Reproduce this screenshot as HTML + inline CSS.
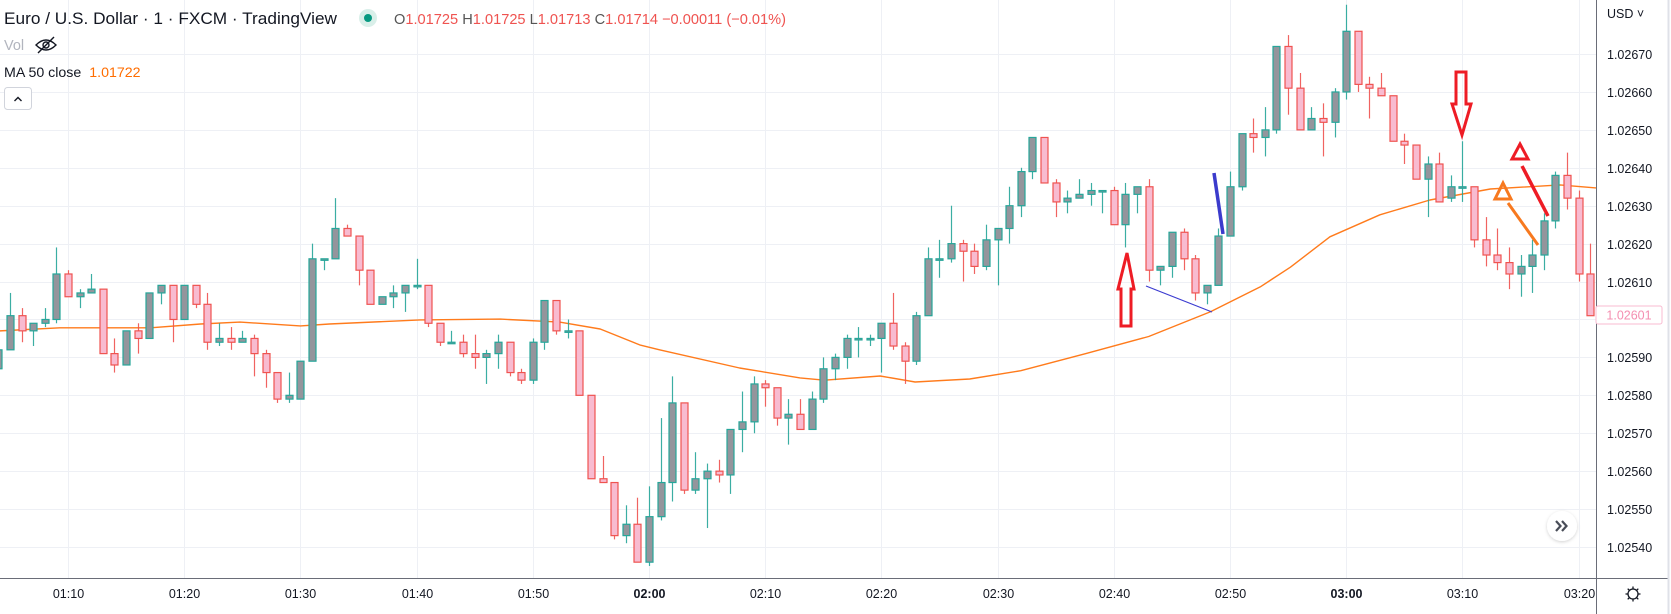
<!DOCTYPE html>
<html><head><meta charset="utf-8">
<style>
html,body{margin:0;padding:0;background:#fff;}
body{width:1671px;height:614px;overflow:hidden;position:relative;font-family:"Liberation Sans",Arial,sans-serif;}
svg{position:absolute;left:0;top:0;}
</style></head>
<body>
<svg id="chart" width="1671" height="614" viewBox="0 0 1671 614" xmlns="http://www.w3.org/2000/svg">
  <defs><clipPath id="plotClip"><rect x="0" y="0" width="1596" height="578"/></clipPath>
  <filter id="sh" x="-50%" y="-50%" width="200%" height="200%"><feDropShadow dx="0" dy="1" stdDeviation="1.5" flood-color="#000" flood-opacity="0.18"/></filter></defs>
  <g id="grid"></g>
  <g id="plot" clip-path="url(#plotClip)">
    <g id="maLayer"></g>
    <g id="candles"></g>
    <g id="annotations">
      <polygon points="1127,253 1134,289 1131,289 1131,326 1121,326 1121,289 1118,289" fill="none" stroke="#ee1c25" stroke-width="3" stroke-linejoin="miter"/>
      <line x1="1146" y1="286" x2="1212" y2="312" stroke="#3b3bd0" stroke-width="1.2"/>
      <line x1="1214" y1="173" x2="1223" y2="234" stroke="#3b3bcc" stroke-width="3.5"/>
      <polygon points="1456,72 1466,72 1466,104 1471,104 1462,135 1452,104 1456,104" fill="none" stroke="#ee1c25" stroke-width="3"/>
      <polygon points="1520,144 1528,159 1512,159" fill="none" stroke="#ee1c25" stroke-width="3"/>
      <line x1="1522" y1="166" x2="1548" y2="216" stroke="#ee1c25" stroke-width="3.5"/>
      <polygon points="1503,183 1511,199 1495,199" fill="none" stroke="#f7791f" stroke-width="3"/>
      <line x1="1508" y1="203" x2="1538" y2="245" stroke="#f7791f" stroke-width="3"/>
    </g>
  </g>
  <g id="yaxis"></g>
  <g id="xaxis"></g>
  <line x1="1596.5" y1="0" x2="1596.5" y2="614" stroke="#6a6d78" stroke-width="1"/>
  <line x1="0" y1="578.5" x2="1668" y2="578.5" stroke="#6a6d78" stroke-width="1"/>
  <line x1="1668.5" y1="0" x2="1668.5" y2="614" stroke="#dfe1e8" stroke-width="2"/>
  <text x="1607" y="18" font-size="12.5" fill="#131722" font-family="Liberation Sans, sans-serif">USD ˅</text>
  <g>
    <rect x="1596" y="306" width="66" height="18" rx="2" fill="#fff" stroke="#f8bbd0" stroke-width="1"/>
    <text id="lastPriceText" x="1629" y="319.5" text-anchor="middle" font-size="12.5" fill="#f48fb1" font-family="Liberation Sans, sans-serif">1.02601</text>
  </g>
  <g filter="url(#sh)">
    <circle cx="1562" cy="526" r="15" fill="#fff"/>
    <path d="M1556 521 L1560.5 526 L1556 531 M1562 521 L1566.5 526 L1562 531" fill="none" stroke="#4a4e59" stroke-width="2.2"/>
  </g>
  <g stroke="#131722" stroke-width="1.3" fill="none">
    <circle cx="1633" cy="594" r="5"/>
    <path d="M1633 586.5V589 M1633 599V601.5 M1625.5 594H1628 M1638 594H1640.5 M1627.7 588.7l1.8 1.8 M1636.5 597.5l1.8 1.8 M1638.3 588.7l-1.8 1.8 M1629.5 597.5l-1.8 1.8"/>
  </g>
  <g font-family="Liberation Sans, sans-serif">
    <text x="4" y="24" font-size="17" fill="#131722" textLength="333" lengthAdjust="spacingAndGlyphs">Euro / U.S. Dollar · 1 · FXCM · TradingView</text>
    <circle cx="368" cy="18" r="9" fill="#d9efe9"/>
    <circle cx="368" cy="18" r="4" fill="#089981"/>
    <text x="394" y="24" font-size="14.6" fill="#ef5350" textLength="392" lengthAdjust="spacingAndGlyphs"><tspan fill="#555">O</tspan>1.01725 <tspan fill="#555">H</tspan>1.01725 <tspan fill="#555">L</tspan>1.01713 <tspan fill="#555">C</tspan>1.01714 −0.00011 (−0.01%)</text>
    <text x="4" y="50" font-size="14.5" fill="#b2b5be">Vol</text>
    <g stroke="#131722" stroke-width="1.4" fill="none">
      <path d="M36 45 Q46 35 56 45 Q46 55 36 45Z"/><circle cx="46" cy="45" r="3"/><line x1="38" y1="53" x2="54" y2="37"/>
    </g>
    <text x="4" y="77" font-size="14.2" fill="#131722">MA 50 close <tspan fill="#ff6d00" dx="4">1.01722</tspan></text>
    <rect x="4.5" y="87.5" width="27" height="22" rx="3" fill="#fff" stroke="#d1d4dc"/>
    <path d="M14.5 101 L18 97.5 L21.5 101" fill="none" stroke="#131722" stroke-width="1.4"/>
  </g>
</svg>
<script>
// ---- data ----
const PRICE_BASE = 1.02540; // candle values below are in points (1e-5) above this base
const startTime = "01:04";
const opensPts  = [47,52,61,57,59,60,72,66,67,68,51,48,57,55,67,69,60,69,64,54,55,54,55,51,46,39,39,49,76,76,84,82,73,64,66,67,69,69,59,54,54,51,50,51,54,46,44,54,65,57,57,40,18,17,3,6,-4,8,17,38,15,18,20,19,31,33,43,42,34,35,31,39,47,50,55,55,55,59,53,49,61,76,76,80,78,74,81,84,90,99,108,96,91,92,93,94,94,85,93,95,73,74,83,76,67,69,82,95,109,108,110,132,121,110,113,112,120,136,122,121,119,107,106,97,101,92,95,95,81,77,75,72,74,77,86,98,92,72];
const highsPts  = [52,67,63,59,63,79,73,68,72,68,55,57,59,67,69,69,69,69,67,59,58,57,56,52,46,46,49,80,76,92,85,82,73,66,69,69,76,69,59,57,56,56,52,56,54,47,55,65,65,60,57,40,24,17,11,13,16,34,45,38,25,22,23,31,41,45,44,42,39,39,41,50,51,56,58,56,59,67,54,62,79,81,90,81,80,85,84,95,100,108,108,97,94,97,96,94,95,96,95,97,74,83,84,77,69,84,99,109,113,116,132,135,125,116,117,121,143,136,124,125,119,109,106,103,104,98,107,95,87,84,79,77,81,88,99,104,94,80];
const lowsPts   = [46,52,54,53,58,59,66,63,67,51,46,48,51,55,64,54,60,63,52,53,52,54,45,42,38,38,39,49,73,76,82,69,64,64,63,62,68,58,53,54,50,47,43,47,45,43,43,52,56,55,40,18,17,2,1,-4,-5,7,12,14,14,5,17,14,25,30,37,32,27,31,31,38,44,47,50,53,46,52,43,48,61,71,75,70,72,73,69,80,87,97,96,87,88,92,90,88,85,79,88,70,69,71,73,65,64,69,82,94,104,103,109,114,110,110,103,108,118,120,113,119,107,101,97,87,91,91,91,79,74,73,68,66,67,73,84,89,70,61];
const closesPts = [52,61,57,59,60,72,66,67,68,51,48,57,55,67,69,60,69,64,54,55,54,55,51,46,39,40,49,76,76,84,82,73,64,66,67,69,69,59,54,54,51,50,51,54,46,44,54,65,57,57,40,18,17,3,6,-4,8,17,38,15,18,20,19,31,33,43,42,34,35,31,39,47,50,55,55,55,59,53,49,61,76,76,80,78,74,81,84,90,99,108,96,91,92,93,94,94,85,93,95,73,74,83,76,67,69,82,95,109,108,110,132,121,110,113,112,120,136,122,121,119,107,106,97,101,91,95,95,81,77,75,72,74,77,86,98,92,72,61];
// MA 50 line: time (minutes after 00:00) and value (points above base)
const maMinutes = [64.1,69.3,77.1,81.4,84.8,90,92.5,100.3,107.2,112.3,115.8,119.2,120.9,127.8,133,135.1,139.9,142.9,147.6,152,157.6,163,168.3,172.6,175.2,178.6,182.9,187.2,192.4,198.4,201.5];
const maPts     = [57.0,57.8,57.8,58.8,59.3,58.3,58.8,59.9,60.1,59.3,57.5,53.3,52.0,47.2,44.6,44.0,45.1,43.5,44.3,46.5,51,55.5,62.0,68.6,73.8,81.8,87.6,91.5,94.4,95.5,94.7];
const priceTicks = ["1.02670","1.02660","1.02650","1.02640","1.02630","1.02620","1.02610","1.02600","1.02590","1.02580","1.02570","1.02560","1.02550","1.02540"];
const timeTicks = ["01:10","01:20","01:30","01:40","01:50","02:00","02:10","02:20","02:30","02:40","02:50","03:00","03:10","03:20"];
const boldTicks = ["02:00","03:00"];

// ---- scales ----
const NS = "http://www.w3.org/2000/svg";
function toMin(t){const p=t.split(":");return (+p[0])*60+(+p[1]);}
function xScale(min){return 68 + (min-70)*11.62;}
function yScale(price){return 547 - (price-1.02540)*379200;}
function yPts(pts){return yScale(PRICE_BASE + pts/100000);}
function mk(tag, attrs){const e=document.createElementNS(NS,tag);for(const k in attrs)e.setAttribute(k,attrs[k]);return e;}

const grid=document.getElementById('grid'), yax=document.getElementById('yaxis'), xax=document.getElementById('xaxis');
priceTicks.forEach(function(t){
  const y=Math.round(yScale(parseFloat(t)))+0.5;
  const gl=mk('line',{x1:0,x2:1596,y1:y,y2:y,stroke:'#eef0f5','stroke-width':1});
  
  
  grid.appendChild(gl);
  const tx=mk('text',{x:1607,y:y+4.5,'font-size':12.5,fill:'#131722','font-family':'Liberation Sans, sans-serif'});
  
  
  tx.textContent=t; yax.appendChild(tx);
});
timeTicks.forEach(function(t){
  const x=Math.round(xScale(toMin(t)))+0.5;
  const gl=mk('line',{x1:x,x2:x,y1:0,y2:578,stroke:'#eef0f5','stroke-width':1});
  
  
  grid.appendChild(gl);
  const tx=mk('text',{x:x,y:598,'text-anchor':'middle','font-size':12.5,fill:'#131722','font-family':'Liberation Sans, sans-serif'});
  if(boldTicks.indexOf(t)>=0) tx.setAttribute('font-weight','bold');
  
  
  tx.textContent=t; xax.appendChild(tx);
});

const maLayer=document.getElementById('maLayer');
let d='';
maMinutes.forEach(function(m,i){d+=(i?'L':'M')+xScale(m).toFixed(1)+' '+yPts(maPts[i]).toFixed(1)+' ';});
const ma=mk('path',{d:d,fill:'none',stroke:'#ff7b1c','stroke-width':1.4,'stroke-linejoin':'round'});


maLayer.appendChild(ma);

const cg=document.getElementById('candles');
const t0=toMin(startTime);
opensPts.forEach(function(o,i){
  const c=closesPts[i], h=highsPts[i], l=lowsPts[i];
  const up=c>=o;
  const cx=Math.round(xScale(t0+i))+0.5;
  const g=mk('g',{});
  
  
  const wc= up ? '#26a69a' : '#ef5350';
  g.appendChild(mk('line',{x1:cx,x2:cx,y1:yPts(h),y2:yPts(l),stroke:wc,'stroke-width':1.2,opacity:0.9}));
  const yt=yPts(Math.max(o,c)), yb=yPts(Math.min(o,c));
  const hgt=Math.max(yb-yt,1.5);
  g.appendChild(mk('rect',{x:cx-3.5,y:yt,width:7,height:hgt,fill: up ? '#94959c' : '#f8bbd0',stroke:wc,'stroke-width':1.2}));
  cg.appendChild(g);
});
</script>
</body></html>
